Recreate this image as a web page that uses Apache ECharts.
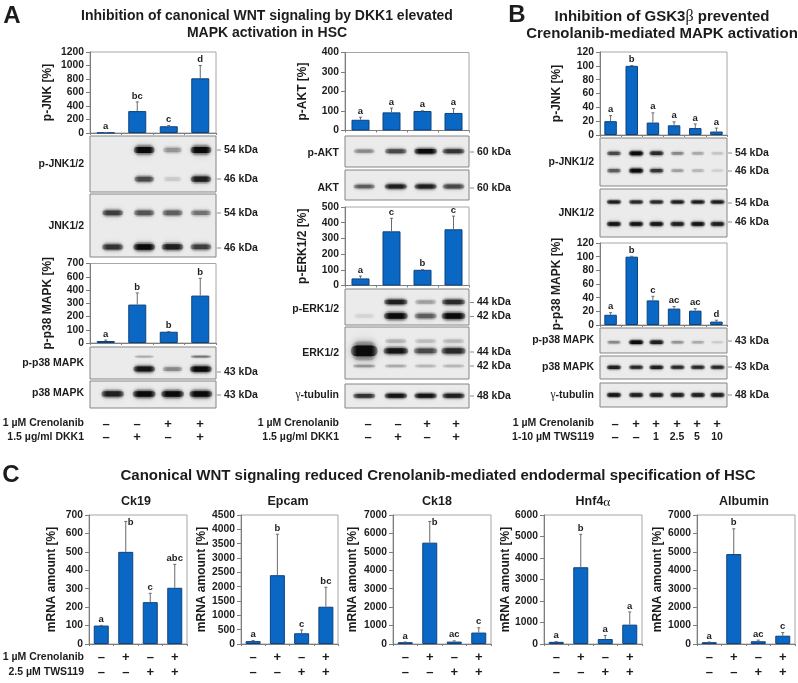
<!DOCTYPE html>
<html><head><meta charset="utf-8">
<style>html,body{margin:0;padding:0;background:#fff}#c{width:798px;height:683px}</style>
<script src="https://cdn.jsdelivr.net/npm/echarts@6/dist/echarts.min.js"></script>
</head><body><div id="c"></div>
<script>
// ---------- DATA: bar values, upper error-bar ends, significance letters ----------
const aJnkVals=[5,325,100,810],   aJnkTops=[8,460,110,1000],  aJnkLet=['a','bc','c','d'];
const aP38Vals=[15,290,85,358],   aP38Tops=[22,378,87,488],   aP38Let=['a','b','b','b'];
const aP38Ticks=['0','100','200','300','400','600','700'];
const aAktVals=[55,93,100,90],    aAktTops=[68,115,101,112],  aAktLet=['a','a','a','a'];
const aErkVals=[45,345,100,358],  aErkTops=[60,428,101,442],  aErkLet=['a','c','b','c'];
const bJnkVals=[20,100,18,14,10,5], bJnkTops=[28,100.5,32,19,16,10], bJnkLet=['a','b','a','a','a','a'];
const bP38Vals=[15,100,36,24,21,5], bP38Tops=[18,100.5,42,27,24,7],  bP38Let=['a','b','c','ac','ac','d'];
const ck19Vals=[100,500,227,305],   ck19Tops=[101,665,275,432],   ck19Let=['a','b','c','abc'];
const epcamVals=[100,2400,375,1300],epcamTops=[120,3830,490,1980],epcamLet=['a','b','c','bc'];
const ck18Vals=[100,5500,130,620],  ck18Tops=[110,6650,170,880],  ck18Let=['a','b','ac','c'];
const hnfVals=[100,3570,230,900],   hnfTops=[110,5100,400,1490],  hnfLet=['a','b','a','a'];
const albVals=[100,4880,150,450],   albTops=[110,6250,210,620],   albLet=['a','b','ac','c'];
// treatment sign rows
const aCreno=['–','–','+','+'], aDkk=['–','+','–','+'];
const bCreno=['–','+','+','+','+','+'], bTws=['–','–','1','2.5','5','10'];
const cCreno=['–','+','–','+'], cTws=['–','–','+','+'];
// blot band intensities per row, per lane
const pJnkA=[[0,1,.35,1],[0,.7,.12,.9]];
const jnkA=[[.75,.65,.6,.5],[.8,1,.9,.75]];
const pP38A=[[0,.25,0,.5],[0,.95,.4,1]];
const p38A=[[.9,1,1,1]];
const pAkt=[[.4,.7,1,.8]];
const akt=[[.6,.9,.9,.7]];
const pErk=[[0,.9,.3,.85],[.08,1,.6,1]];
const erk=[[0,.22,.18,.2],[1.6,.95,.7,.85],[.35,.25,.2,.2]];
const tubA=[[.8,.95,.95,.9]];
const pJnkB=[[.7,1,.85,.4,.25,.15],[.6,1,.8,.3,.2,.1]];
const jnkB=[[.9,.85,.85,.9,.9,.9],[.95,.95,.95,.9,.95,.9]];
const pP38B=[[.4,1,.9,.35,.25,.12]];
const p38B=[[.9,.85,.9,.85,.85,.85]];
const tubB=[[.95,.9,.9,.9,.9,.9]];

// ---------- LAYOUT ----------
const FONT='"Liberation Sans",Arial,sans-serif', INK='#1c1c1c';
const barPanels=[
 {v:aJnkVals,t:aJnkTops,l:aJnkLet,x:90,y:52,w:126,h:81,max:1200,step:200,name:'p-JNK [%]',nx:48,bw:18},
 {v:aP38Vals,t:aP38Tops,l:aP38Let,x:90,y:263.5,w:126,h:79.5,max:600,step:100,labels:aP38Ticks,name:'p-p38 MAPK [%]',nx:48,bw:18},
 {v:aAktVals,t:aAktTops,l:aAktLet,x:345,y:52.5,w:124,h:78,max:400,step:100,name:'p-AKT [%]',nx:303,bw:18},
 {v:aErkVals,t:aErkTops,l:aErkLet,x:345,y:207,w:124,h:78.5,max:500,step:100,name:'p-ERK1/2 [%]',nx:303,bw:18},
 {v:bJnkVals,t:bJnkTops,l:bJnkLet,x:600,y:52,w:127,h:83,max:120,step:20,name:'p-JNK [%]',nx:557,bw:12.5},
 {v:bP38Vals,t:bP38Tops,l:bP38Let,x:600,y:243,w:127,h:82,max:120,step:20,name:'p-p38 MAPK [%]',nx:557,bw:12.5},
 {v:ck19Vals,t:ck19Tops,l:ck19Let,x:89,y:515,w:98,h:129,max:700,step:100,name:'mRNA amount [%]',nx:52,bw:15,beside:1,s:[cCreno,cTws]},
 {v:epcamVals,t:epcamTops,l:epcamLet,x:241,y:515,w:97,h:129,max:4500,step:500,name:'mRNA amount [%]',nx:202,bw:15,s:[cCreno,cTws]},
 {v:ck18Vals,t:ck18Tops,l:ck18Let,x:393,y:515,w:98,h:129,max:7000,step:1000,name:'mRNA amount [%]',nx:353,bw:15,beside:1,s:[cCreno,cTws]},
 {v:hnfVals,t:hnfTops,l:hnfLet,x:544,y:515,w:98,h:129,max:6000,step:1000,name:'mRNA amount [%]',nx:506,bw:15,s:[cCreno,cTws]},
 {v:albVals,t:albTops,l:albLet,x:697,y:515,w:98,h:129,max:7000,step:1000,name:'mRNA amount [%]',nx:658,bw:15,s:[cCreno,cTws]}
];
const L4=[.18,.43,.655,.88], R4=[.155,.41,.65,.875], B6=[.11,.285,.445,.61,.77,.925];
const blots=[
 {d:pJnkA,x:90,y:136,w:126,h:56,lanes:L4,rows:[.25,.77],bw:23,bh:[9,8]},
 {d:jnkA,x:90,y:194,w:126,h:63,lanes:L4,rows:[.30,.84],bw:24,bh:[8,8]},
 {d:pP38A,x:90,y:347,w:126,h:32,lanes:L4,rows:[.3,.69],bw:24,bh:[3.5,7.5]},
 {d:p38A,x:90,y:381,w:126,h:27,lanes:L4,rows:[.48],bw:25,bh:[8]},
 {d:pAkt,x:345,y:136,w:124,h:31,lanes:R4,rows:[.49],bw:25,bh:[6.5]},
 {d:akt,x:345,y:170,w:124,h:30,lanes:R4,rows:[.55],bw:25,bh:[6.5]},
 {d:pErk,x:345,y:289,w:124,h:36,lanes:R4,rows:[.36,.75],bw:26,bh:[7,8]},
 {d:erk,x:345,y:327,w:124,h:52,lanes:R4,rows:[.27,.46,.75],bw:27,bh:[7,8,5]},
 {d:tubA,x:345,y:384,w:124,h:24,lanes:R4,rows:[.49],bw:25,bh:[6]},
 {d:pJnkB,x:600,y:138,w:127,h:48,lanes:B6,rows:[.32,.68],bw:17,bh:[5.5,5.5]},
 {d:jnkB,x:600,y:189,w:127,h:48,lanes:B6,rows:[.27,.73],bw:17,bh:[4.5,5.5]},
 {d:pP38B,x:600,y:328,w:127,h:25,lanes:B6,rows:[.57],bw:17,bh:[5]},
 {d:p38B,x:600,y:356,w:127,h:23,lanes:B6,rows:[.49],bw:17,bh:[5]},
 {d:tubB,x:600,y:383,w:127,h:24,lanes:B6,rows:[.5],bw:17,bh:[5]}
];
const labelsR=[ // right-aligned blot and row names
 [84,164,'p-JNK1/2'],[84,226,'JNK1/2'],[84,363,'p-p38 MAPK'],[84,393,'p38 MAPK'],
 [84,423.5,'1 µM Crenolanib'],[84,437,'1.5 µg/ml DKK1'],
 [339,153,'p-AKT'],[339,188,'AKT'],[339,309,'p-ERK1/2'],[339,353,'ERK1/2'],[339,395,'{g|γ}-tubulin'],
 [339,423.5,'1 µM Crenolanib'],[339,437,'1.5 µg/ml DKK1'],
 [594,162,'p-JNK1/2'],[594,213,'JNK1/2'],[594,340,'p-p38 MAPK'],[594,367,'p38 MAPK'],[594,395,'{g|γ}-tubulin'],
 [594,423.5,'1 µM Crenolanib'],[594,437,'1-10 µM TWS119'],
 [84,657,'1 µM Crenolanib'],[84,672,'2.5 µM TWS119']
];
const kda=[
 [217,150,'54 kDa'],[217,179,'46 kDa'],[217,213,'54 kDa'],[217,248,'46 kDa'],[217,372,'43 kDa'],[217,395,'43 kDa'],
 [470,152,'60 kDa'],[470,188,'60 kDa'],[470,302.5,'44 kDa'],[470,316.5,'42 kDa'],[470,352,'44 kDa'],[470,366,'42 kDa'],[470,396,'48 kDa'],
 [728,153,'54 kDa'],[728,171,'46 kDa'],[728,203,'54 kDa'],[728,222,'46 kDa'],[728,341,'43 kDa'],[728,367,'43 kDa'],[728,395,'48 kDa']
];
const titles=[
 [267,16.5,'Inhibition of canonical WNT signaling by DKK1 elevated',14],[267,33.5,'MAPK activation in HSC',14],
 [662,16.5,'Inhibition of GSK3{g2|β} prevented',15],[662,33.5,'Crenolanib-mediated MAPK activation',15],
 [438,475.5,'Canonical WNT signaling reduced Crenolanib-mediated endodermal specification of HSC',15],
 [136,502,'Ck19',12.5],[288,502,'Epcam',12.5],[437,502,'Ck18',12.5],[593,502,'Hnf4{g3|α}',12.5],[744,502,'Albumin',12.5]
];
const panelLetters=[[12,16,'A'],[517,15,'B'],[11,475,'C']];
const signRows=[
 {y:424,x:[106,137,168,200],vals:aCreno},{y:437.5,x:[106,137,168,200],vals:aDkk},
 {y:424,x:[368,398,427,456],vals:aCreno},{y:437.5,x:[368,398,427,456],vals:aDkk},
 {y:424,x:[615,636,656,677,697,717],vals:bCreno},{y:437.5,x:[615,636,656,677,697,717],vals:bTws}
];

// ---------- BUILD ----------
const grid=[],xAxis=[],yAxis=[],series=[],graphic=[];
const FRAME='#a6a6a6', AX='#7d7d7d', BLOTBG='#ebebeb';
barPanels.forEach(p=>{
  const i=grid.length;
  grid.push({left:p.x,top:p.y,width:p.w,height:p.h,show:true,borderColor:FRAME,borderWidth:1,backgroundColor:'#fff'});
  const cats=p.v.map((_,k)=>p.s?p.s[0][k]+'\n'+p.s[1][k]:String(k+1));
  xAxis.push({gridIndex:i,type:'category',data:cats,axisLine:{lineStyle:{color:AX}},
    axisTick:{show:true,length:2,lineStyle:{color:AX}},
    axisLabel:p.s?{show:true,interval:0,margin:6,lineHeight:15,fontFamily:FONT,fontWeight:'bold',fontSize:13,color:INK}:{show:false}});
  yAxis.push({gridIndex:i,type:'value',min:0,max:p.max,interval:p.step,splitLine:{show:false},
    axisLine:{show:true,lineStyle:{color:AX}},axisTick:{show:true,length:4,lineStyle:{color:AX}},
    axisLabel:{margin:6,fontFamily:FONT,fontWeight:'bold',fontSize:10.3,color:INK,
      formatter:v=>p.labels?p.labels[Math.round(v/p.step)]:String(v)},
    name:p.name,nameLocation:'middle',nameRotate:90,nameGap:p.x-p.nx-6,
    nameTextStyle:{fontFamily:FONT,fontWeight:'bold',fontSize:12,color:INK}});
  series.push({type:'bar',xAxisIndex:i,yAxisIndex:i,data:p.v,barWidth:p.bw,animation:false,
    itemStyle:{color:'#0b67c4',borderColor:'#0c437f',borderWidth:1}});
  series.push({type:'custom',xAxisIndex:i,yAxisIndex:i,animation:false,silent:true,z:3,
    data:p.t.map((t,k)=>[k,t]),encode:{x:0,y:1},
    renderItem:(params,api)=>{
      const k=params.dataIndex, top=api.coord([k,api.value(1)]), base=api.coord([k,p.v[k]]);
      const side=p.beside&&k===1;
      return {type:'group',children:[
        {type:'line',shape:{x1:top[0],y1:base[1],x2:top[0],y2:top[1]},style:{stroke:'#6a6a6a',lineWidth:1}},
        {type:'line',shape:{x1:top[0]-1.5,y1:top[1],x2:top[0]+1.5,y2:top[1]},style:{stroke:'#6a6a6a',lineWidth:1}},
        {type:'text',x:top[0]+(side?5:0),y:top[1]+(side?0.5:-6),style:{text:p.l[k],fill:INK,
          font:'bold 9.5px '+FONT,align:'center',verticalAlign:'middle'}}
      ]};
    }});
});
blots.forEach(b=>{
  const i=grid.length;
  grid.push({left:b.x,top:b.y,width:b.w,height:b.h,show:true,borderColor:'#858585',borderWidth:1,backgroundColor:BLOTBG});
  xAxis.push({gridIndex:i,type:'value',min:0,max:1,show:false});
  yAxis.push({gridIndex:i,type:'value',min:0,max:1,inverse:true,show:false});
  const rowsData=[];
  b.d.forEach((row,r)=>row.forEach((val,l)=>{ if(val>0) rowsData.push([b.lanes[l],b.rows[r],val,r]); }));
  series.push({type:'custom',xAxisIndex:i,yAxisIndex:i,animation:false,silent:true,clip:true,data:rowsData,encode:{x:0,y:1},
    renderItem:(params,api)=>{
      const c=api.coord([api.value(0),api.value(1)]), I=api.value(2), r=api.value(3);
      const k=Math.min(1,I);
      const w=b.bw*(I>1?1.08:.86+.14*k), h=b.bh[r]*(.6+.4*k)*(I>1?2:1);
      const g=Math.round(235-225*Math.pow(k,.9));
      const halo=Math.round(235-70*k);
      const stops=(v,a0)=>[{offset:0,color:`rgba(${v},${v},${v},${a0})`},{offset:.25,color:`rgb(${v},${v},${v})`},{offset:.75,color:`rgb(${v},${v},${v})`},{offset:1,color:`rgba(${v},${v},${v},${a0})`}];
      return {type:'group',children:[
        {type:'rect',shape:{x:c[0]-w/2,y:c[1]-h*.6,width:w,height:h*1.2,r:h*.6},
         style:{fill:{type:'linear',x:0,y:0,x2:1,y2:0,colorStops:stops(halo,0)},opacity:.6,shadowBlur:h*.9,shadowColor:`rgba(${halo},${halo},${halo},.5)`}},
        {type:'rect',shape:{x:c[0]-w/2+1,y:c[1]-h*.34,width:w-2,height:h*.68,r:h*.34},
         style:{fill:{type:'linear',x:0,y:0,x2:1,y2:0,colorStops:stops(g,0.3)},shadowBlur:h*.5,shadowColor:`rgba(${g},${g},${g},${.4+.5*k})`}}
      ]};
    }});
});
function T(x,y,text,align,size,extra){
  graphic.push({type:'text',x,y,silent:true,style:Object.assign({text,fill:INK,
    font:`bold ${size}px ${FONT}`,align,verticalAlign:'middle',
    rich:{g:{fontFamily:'"Liberation Serif",serif',fontWeight:'normal',fontSize:size+1,fill:INK,verticalAlign:'middle'},
          g2:{fontFamily:'"Liberation Serif",serif',fontWeight:'normal',fontSize:size+1,fill:INK},
          g3:{fontFamily:'"Liberation Serif",serif',fontWeight:'normal',fontSize:size+1,fill:INK}}},extra||{})});
}
labelsR.forEach(a=>T(a[0],a[1],a[2],'right',10.5));
kda.forEach(a=>{
  graphic.push({type:'line',silent:true,shape:{x1:a[0],y1:a[1],x2:a[0]+4,y2:a[1]},style:{stroke:'#8a8a8a',lineWidth:1}});
  T(a[0]+7,a[1],a[2],'left',10.5);
});
titles.forEach(a=>T(a[0],a[1],a[2],'center',a[3]));
panelLetters.forEach(a=>T(a[0],a[1],a[2],'center',24));
signRows.forEach(r=>r.vals.forEach((s,k)=>T(r.x[k],r.y,s,'center',(s==='–'||s==='+')?13:10.5)));

const chart=echarts.init(document.getElementById('c'),null,{renderer:'canvas'});
chart.setOption({animation:false,grid,xAxis,yAxis,series,graphic:{elements:graphic}});
</script></body></html>
